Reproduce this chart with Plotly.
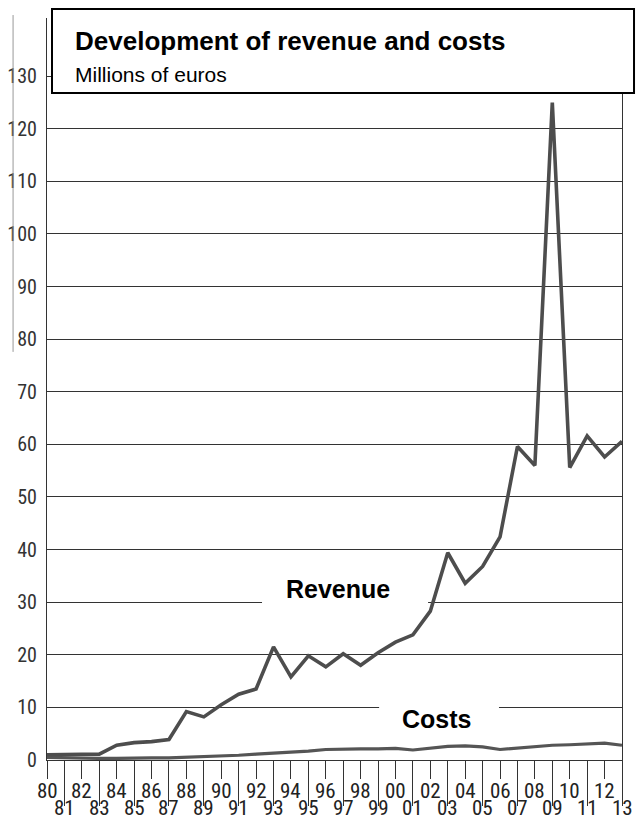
import plotly.graph_objects as go

# ---- data ----
years = list(range(1980, 2014))
year_labels = ["80", "81", "82", "83", "84", "85", "86", "87", "88", "89",
               "90", "91", "92", "93", "94", "95", "96", "97", "98", "99",
               "00", "01", "02", "03", "04", "05", "06", "07", "08", "09",
               "10", "11", "12", "13"]
revenue = [1.0, 1.1, 1.1, 1.1, 2.8, 3.3, 3.5, 3.9, 9.2, 8.2,
           10.5, 12.5, 13.5, 21.5, 15.8, 19.8, 17.7, 20.2, 18.0, 20.4,
           22.4, 23.8, 28.3, 39.4, 33.6, 36.8, 42.4, 59.6, 56.0, 125.0,
           55.6, 61.6, 57.6, 60.6]
costs = [0.5, 0.4, 0.4, 0.3, 0.3, 0.4, 0.4, 0.4, 0.5, 0.6,
         0.8, 0.9, 1.1, 1.3, 1.4, 1.7, 2.0, 2.1, 2.1, 2.1,
         2.2, 1.9, 2.3, 2.6, 2.7, 2.5, 2.0, 2.3, 2.5, 2.8,
         2.9, 3.0, 3.2, 2.8]
y_ticks = list(range(0, 140, 10))

title = "Development of revenue and costs"
subtitle = "Millions of euros"

NARROW = "Liberation Sans Narrow, Arial Narrow, Roboto Condensed, Liberation Sans, Arial, sans-serif"
SANS = "Liberation Sans, Arial, Helvetica, sans-serif"

fig = go.Figure()
fig.add_trace(go.Scatter(x=years, y=costs, mode="lines", name="Costs",
                         line=dict(color="#555555", width=3.2), cliponaxis=False,
                         showlegend=False))
fig.add_trace(go.Scatter(x=years, y=revenue, mode="lines", name="Revenue",
                         line=dict(color="#4d4d4d", width=3.6), cliponaxis=False,
                         showlegend=False))

# tick axes: odd years long ticks, even years short ticks
odd_years = [y for y in years if y % 2 == 1]
even_years = [y for y in years if y % 2 == 0]

fig.update_layout(
    width=643, height=823,
    margin=dict(l=47, r=21, t=18, b=63, autoexpand=False),
    paper_bgcolor="white", plot_bgcolor="white",
    showlegend=False,
    xaxis=dict(range=[1980, 2013], tickvals=odd_years, ticks="outside",
               ticklen=45, tickwidth=1.2, tickcolor="#333",
               showticklabels=False, showgrid=False, zeroline=False,
               showline=True, linecolor="#333", linewidth=1.2, automargin=False),
    xaxis2=dict(range=[1980, 2013], overlaying="x", side="bottom",
                tickvals=even_years, ticks="outside", ticklen=18,
                tickwidth=1.2, tickcolor="#333", showticklabels=False,
                showgrid=False, zeroline=False, showline=False, automargin=False),
    yaxis=dict(range=[0, 141.06], tickvals=y_ticks,
               ticktext=[str(v) for v in y_ticks],
               showgrid=True, gridcolor="#333", gridwidth=1.2,
               zeroline=False, showline=True, linecolor="#333", linewidth=1.2,
               mirror=True, ticks="", ticklabelstandoff=5, automargin=False,
               tickfont=dict(family=NARROW, size=20, color="#333")),
)
# invisible trace to activate xaxis2
fig.add_trace(go.Scatter(x=[1980], y=[0], xaxis="x2", mode="markers",
                         marker=dict(opacity=0), hoverinfo="skip", showlegend=False))

# x tick labels in two rows
for yr, lab in zip(years, year_labels):
    row_y = -0.0418 if yr % 2 == 0 else -0.0650
    fig.add_annotation(x=yr, y=row_y, xref="x", yref="paper", text=lab,
                       showarrow=False, xanchor="center", yanchor="middle",
                       font=dict(family=NARROW, size=21, color="#222"))

# white masks behind series labels (between gridlines and traces)
fig.add_shape(type="rect", xref="x", yref="y", x0=1992.34, x1=2001.87, y0=27.5, y1=37.5,
              fillcolor="white", line=dict(width=0), layer="between")
fig.add_shape(type="rect", xref="x", yref="y", x0=1999.06, x1=2005.94, y0=4.6, y1=12.0,
              fillcolor="white", line=dict(width=0), layer="between")
fig.add_annotation(x=1996.7, y=32.5, xref="x", yref="y", text="<b>Revenue</b>",
                   showarrow=False, font=dict(family=SANS, size=25, color="black"))
fig.add_annotation(x=2002.38, y=7.8, xref="x", yref="y", text="<b>Costs</b>",
                   showarrow=False, font=dict(family=SANS, size=25, color="black"))

# page-edge line on left (scan)
fig.add_shape(type="line", xref="paper", yref="paper", x0=-0.059, x1=-0.059, y0=1.004, y1=0.55,
              line=dict(color="#999", width=1))

# title box
fig.add_shape(type="rect", xref="paper", yref="paper", x0=0.0087, x1=1.0209,
              y0=0.8989, y1=1.0121, fillcolor="white",
              line=dict(color="black", width=2), layer="above")
fig.add_annotation(x=0.0452, y=0.969, xref="paper", yref="paper", text="<b>" + title + "</b>",
                   showarrow=False, xanchor="left", yanchor="middle",
                   font=dict(family=SANS, size=26, color="black"))
fig.add_annotation(x=0.0452, y=0.9235, xref="paper", yref="paper", text=subtitle,
                   showarrow=False, xanchor="left", yanchor="middle",
                   font=dict(family=SANS, size=21, color="black"))

fig.write_html("out.html", config={"displayModeBar": False},
               post_script="document.body.style.margin='0';document.body.style.overflow='hidden';")
